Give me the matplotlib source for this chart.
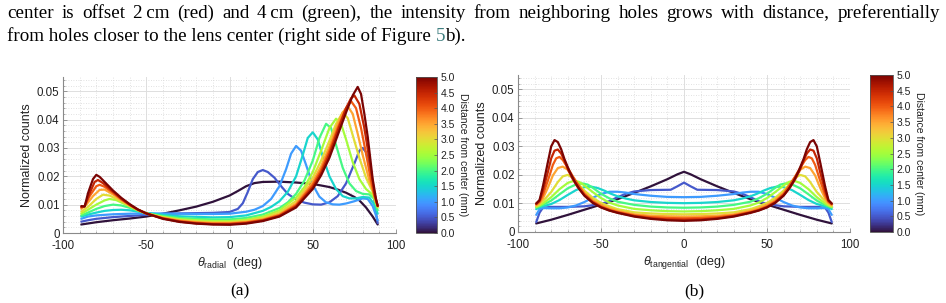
import matplotlib
matplotlib.use('Agg')
import matplotlib.pyplot as plt
from matplotlib.colors import Normalize
from matplotlib.cm import ScalarMappable
from matplotlib.ticker import MultipleLocator

plt.rcParams['axes.unicode_minus'] = False
plt.rcParams['font.family'] = ['Liberation Sans', 'DejaVu Sans']
plt.rcParams['mathtext.fontset'] = 'custom'
plt.rcParams['mathtext.rm'] = 'Liberation Sans'
plt.rcParams['mathtext.it'] = 'Liberation Sans:italic'

# ---------------- data ----------------
distances = [0.0, 0.5, 1.0, 1.5, 2.0, 2.5, 3.0, 3.5, 4.0, 4.5, 5.0]

x_ticks = [-100, -50, 0, 50, 100]
x_tick_labels = ['-100', '-50', '0', '50', '100']
y_ticks = [0, 0.01, 0.02, 0.03, 0.04, 0.05]
y_tick_labels = ['0', '0.01', '0.02', '0.03', '0.04', '0.05']
cbar_ticks = [0.0, 0.5, 1.0, 1.5, 2.0, 2.5, 3.0, 3.5, 4.0, 4.5, 5.0]
cbar_tick_labels = ['0.0', '0.5', '1.0', '1.5', '2.0', '2.5', '3.0', '3.5', '4.0', '4.5', '5.0']

# (a) radial
rad_x_00 = [-89, -80, -70, -60, -50, -40, -30, -20, -10, 0, 5, 10, 15, 20, 30, 40, 50, 60, 65, 70, 75, 78, 82, 86, 89]
rad_y_00 = [0.0030, 0.0038, 0.0045, 0.0051, 0.0058, 0.0068, 0.0080, 0.0093, 0.0110, 0.0132, 0.0148, 0.0165, 0.0176, 0.0180, 0.0181, 0.0178, 0.0173, 0.0162, 0.0153, 0.0142, 0.0127, 0.0115, 0.0090, 0.0058, 0.0030]
rad_x_05 = [-89, -85, -80, -70, -60, -50, -40, -30, -20, -10, 0, 5, 8, 11, 14, 17, 20, 23, 27, 31, 35, 40, 45, 50, 55, 60, 65, 70, 75, 78, 80, 82, 84, 86, 88, 89]
rad_y_05 = [0.0040, 0.0045, 0.0050, 0.0056, 0.0060, 0.0064, 0.0067, 0.0069, 0.0070, 0.0071, 0.0074, 0.0085, 0.0105, 0.0145, 0.0190, 0.0215, 0.0222, 0.0215, 0.0195, 0.0165, 0.0138, 0.0118, 0.0107, 0.0101, 0.0100, 0.0108, 0.0130, 0.0175, 0.0245, 0.0290, 0.0300, 0.0285, 0.0240, 0.0160, 0.0070, 0.0035]
rad_x_10 = [-89, -85, -80, -70, -60, -50, -40, -30, -20, -10, 0, 10, 15, 20, 25, 30, 34, 37, 40, 43, 46, 50, 54, 58, 62, 66, 70, 75, 80, 83, 86, 89]
rad_y_10 = [0.0050, 0.0058, 0.0062, 0.0066, 0.0068, 0.0069, 0.0069, 0.0068, 0.0067, 0.0067, 0.0068, 0.0075, 0.0082, 0.0095, 0.0120, 0.0165, 0.0225, 0.0280, 0.0307, 0.0290, 0.0240, 0.0170, 0.0128, 0.0108, 0.0101, 0.0100, 0.0104, 0.0112, 0.0122, 0.0120, 0.0095, 0.0045]
rad_x_15 = [-89, -85, -80, -75, -70, -65, -60, -50, -40, -30, -20, -10, 0, 10, 20, 25, 30, 35, 40, 44, 47, 50, 53, 56, 60, 64, 68, 72, 76, 80, 84, 87, 89]
rad_y_15 = [0.0058, 0.0065, 0.0072, 0.0078, 0.0081, 0.0082, 0.0080, 0.0071, 0.0064, 0.0059, 0.0057, 0.0055, 0.0056, 0.0062, 0.0078, 0.0092, 0.0112, 0.0145, 0.0200, 0.0275, 0.0335, 0.0355, 0.0330, 0.0270, 0.0200, 0.0155, 0.0130, 0.0122, 0.0122, 0.0127, 0.0125, 0.0100, 0.0068]
rad_x_20 = [-89, -85, -80, -75, -70, -65, -60, -50, -40, -30, -20, -10, 0, 10, 20, 30, 35, 40, 45, 50, 54, 58, 61, 64, 68, 72, 76, 80, 84, 87, 89]
rad_y_20 = [0.0062, 0.0072, 0.0085, 0.0095, 0.0100, 0.0097, 0.0089, 0.0069, 0.0060, 0.0053, 0.0050, 0.0048, 0.0048, 0.0053, 0.0065, 0.0088, 0.0108, 0.0138, 0.0185, 0.0255, 0.0335, 0.0385, 0.0370, 0.0310, 0.0230, 0.0175, 0.0148, 0.0138, 0.0136, 0.0120, 0.0080]
rad_x_25 = [-89, -85, -80, -75, -72, -68, -60, -55, -50, -40, -30, -20, -10, 0, 10, 20, 30, 40, 45, 50, 55, 60, 64, 67, 70, 74, 78, 82, 86, 89]
rad_y_25 = [0.0068, 0.0082, 0.0100, 0.0115, 0.0120, 0.0116, 0.0094, 0.0080, 0.0069, 0.0057, 0.0049, 0.0045, 0.0042, 0.0042, 0.0047, 0.0058, 0.0080, 0.0125, 0.0162, 0.0215, 0.0290, 0.0370, 0.0403, 0.0385, 0.0330, 0.0250, 0.0190, 0.0155, 0.0135, 0.0090]
rad_x_30 = [-89, -85, -80, -76, -72, -66, -60, -55, -50, -40, -30, -20, -10, 0, 10, 20, 30, 40, 50, 55, 60, 64, 68, 71, 74, 78, 82, 86, 89]
rad_y_30 = [0.0075, 0.0092, 0.0120, 0.0135, 0.0132, 0.0115, 0.0096, 0.0081, 0.0069, 0.0055, 0.0046, 0.0041, 0.0038, 0.0038, 0.0043, 0.0053, 0.0073, 0.0113, 0.0195, 0.0255, 0.0325, 0.0385, 0.0425, 0.0405, 0.0345, 0.0265, 0.0195, 0.0145, 0.0093]
rad_x_35 = [-89, -86, -82, -78, -75, -70, -65, -60, -55, -50, -40, -30, -20, -10, 0, 10, 20, 30, 40, 50, 55, 60, 65, 68, 71, 74, 77, 80, 84, 87, 89]
rad_y_35 = [0.0085, 0.0100, 0.0130, 0.0152, 0.0153, 0.0136, 0.0116, 0.0098, 0.0082, 0.0069, 0.0053, 0.0044, 0.0038, 0.0035, 0.0035, 0.0039, 0.0048, 0.0066, 0.0104, 0.0180, 0.0235, 0.0305, 0.0385, 0.0425, 0.0447, 0.0420, 0.0350, 0.0275, 0.0185, 0.0135, 0.0095]
rad_x_40 = [-89, -87, -84, -80, -78, -75, -70, -65, -60, -55, -50, -40, -30, -20, -10, 0, 10, 20, 30, 40, 50, 55, 60, 65, 70, 73, 76, 79, 82, 85, 87, 89]
rad_y_40 = [0.0090, 0.0095, 0.0130, 0.0165, 0.0170, 0.0163, 0.0142, 0.0119, 0.0099, 0.0082, 0.0069, 0.0052, 0.0042, 0.0036, 0.0033, 0.0033, 0.0037, 0.0046, 0.0063, 0.0098, 0.0170, 0.0222, 0.0290, 0.0370, 0.0440, 0.0465, 0.0440, 0.0370, 0.0280, 0.0185, 0.0130, 0.0095]
rad_x_45 = [-89, -87, -84, -81, -79, -76, -70, -65, -60, -55, -50, -40, -30, -20, -10, 0, 10, 20, 30, 40, 50, 55, 60, 65, 70, 73, 75, 78, 81, 84, 87, 89]
rad_y_45 = [0.0092, 0.0095, 0.0140, 0.0180, 0.0187, 0.0176, 0.0146, 0.0121, 0.0100, 0.0082, 0.0069, 0.0051, 0.0040, 0.0034, 0.0031, 0.0031, 0.0035, 0.0044, 0.0060, 0.0094, 0.0162, 0.0212, 0.0278, 0.0360, 0.0440, 0.0475, 0.0485, 0.0455, 0.0370, 0.0260, 0.0140, 0.0095]
rad_x_50 = [-89, -87, -85, -82, -80, -78, -75, -70, -65, -60, -55, -50, -40, -30, -20, -10, 0, 10, 20, 30, 40, 50, 55, 60, 65, 70, 74, 77, 79, 81, 83, 86, 88, 89]
rad_y_50 = [0.0095, 0.0093, 0.0140, 0.0190, 0.0205, 0.0198, 0.0180, 0.0150, 0.0124, 0.0102, 0.0083, 0.0069, 0.0050, 0.0039, 0.0033, 0.0030, 0.0029, 0.0033, 0.0042, 0.0058, 0.0090, 0.0155, 0.0203, 0.0265, 0.0345, 0.0425, 0.0485, 0.0515, 0.0490, 0.0420, 0.0340, 0.0190, 0.0120, 0.0096]

# (b) tangential
tan_x_00 = [-89, -80, -70, -60, -50, -40, -30, -20, -10, -4, 0, 4, 10, 20, 30, 40, 50, 60, 70, 80, 89]
tan_y_00 = [0.0030, 0.0043, 0.0060, 0.0078, 0.0096, 0.0115, 0.0137, 0.0160, 0.0185, 0.0202, 0.0211, 0.0202, 0.0185, 0.0160, 0.0137, 0.0115, 0.0096, 0.0078, 0.0060, 0.0043, 0.0030]
tan_x_05 = [-89, -87, -85, -80, -70, -60, -50, -45, -40, -35, -30, -20, -8, -4, 0, 4, 8, 20, 30, 35, 40, 45, 50, 60, 70, 80, 85, 87, 89]
tan_y_05 = [0.0035, 0.0068, 0.0085, 0.0088, 0.0088, 0.0090, 0.0098, 0.0108, 0.0122, 0.0134, 0.0142, 0.0147, 0.0148, 0.0160, 0.0173, 0.0160, 0.0148, 0.0147, 0.0142, 0.0134, 0.0122, 0.0108, 0.0098, 0.0090, 0.0088, 0.0088, 0.0085, 0.0068, 0.0035]
tan_x_10 = [-89, -87, -85, -80, -75, -70, -65, -60, -55, -50, -45, -40, -35, -30, -20, -10, 0, 10, 20, 30, 35, 40, 45, 50, 55, 60, 65, 70, 75, 80, 85, 87, 89]
tan_y_10 = [0.0060, 0.0080, 0.0084, 0.0083, 0.0083, 0.0086, 0.0093, 0.0105, 0.0120, 0.0133, 0.0141, 0.0141, 0.0138, 0.0133, 0.0127, 0.0123, 0.0122, 0.0123, 0.0127, 0.0133, 0.0138, 0.0141, 0.0141, 0.0133, 0.0120, 0.0105, 0.0093, 0.0086, 0.0083, 0.0083, 0.0084, 0.0080, 0.0060]
tan_x_15 = [-89, -87, -85, -80, -75, -70, -65, -60, -56, -52, -48, -44, -40, -35, -30, -20, -10, 0, 10, 20, 30, 35, 40, 44, 48, 52, 56, 60, 65, 70, 75, 80, 85, 87, 89]
tan_y_15 = [0.0080, 0.0087, 0.0090, 0.0098, 0.0112, 0.0130, 0.0147, 0.0157, 0.0159, 0.0154, 0.0145, 0.0134, 0.0125, 0.0117, 0.0111, 0.0105, 0.0102, 0.0101, 0.0102, 0.0105, 0.0111, 0.0117, 0.0125, 0.0134, 0.0145, 0.0154, 0.0159, 0.0157, 0.0147, 0.0130, 0.0112, 0.0098, 0.0090, 0.0087, 0.0080]
tan_x_20 = [-89, -87, -85, -80, -75, -70, -65, -61, -58, -55, -50, -45, -40, -30, -20, -10, 0, 10, 20, 30, 40, 45, 50, 55, 58, 61, 65, 70, 75, 80, 85, 87, 89]
tan_y_20 = [0.0085, 0.0090, 0.0095, 0.0110, 0.0132, 0.0153, 0.0167, 0.0170, 0.0166, 0.0155, 0.0134, 0.0118, 0.0106, 0.0095, 0.0089, 0.0086, 0.0085, 0.0086, 0.0089, 0.0095, 0.0106, 0.0118, 0.0134, 0.0155, 0.0166, 0.0170, 0.0167, 0.0153, 0.0132, 0.0110, 0.0095, 0.0090, 0.0085]
tan_x_25 = [-89, -87, -85, -80, -75, -70, -66, -63, -60, -55, -50, -45, -40, -30, -20, -10, 0, 10, 20, 30, 40, 45, 50, 55, 60, 63, 66, 70, 75, 80, 85, 87, 89]
tan_y_25 = [0.0088, 0.0093, 0.0100, 0.0122, 0.0150, 0.0172, 0.0180, 0.0175, 0.0163, 0.0140, 0.0119, 0.0103, 0.0093, 0.0081, 0.0076, 0.0073, 0.0072, 0.0073, 0.0076, 0.0081, 0.0093, 0.0103, 0.0119, 0.0140, 0.0163, 0.0175, 0.0180, 0.0172, 0.0150, 0.0122, 0.0100, 0.0093, 0.0088]
tan_x_30 = [-89, -87, -85, -80, -76, -73, -70, -67, -64, -60, -55, -50, -45, -40, -30, -20, -10, 0, 10, 20, 30, 40, 45, 50, 55, 60, 64, 67, 70, 73, 76, 80, 85, 87, 89]
tan_y_30 = [0.0090, 0.0097, 0.0108, 0.0140, 0.0175, 0.0195, 0.0200, 0.0190, 0.0170, 0.0145, 0.0120, 0.0102, 0.0090, 0.0080, 0.0069, 0.0065, 0.0063, 0.0062, 0.0063, 0.0065, 0.0069, 0.0080, 0.0090, 0.0102, 0.0120, 0.0145, 0.0170, 0.0190, 0.0200, 0.0195, 0.0175, 0.0140, 0.0108, 0.0097, 0.0090]
tan_x_35 = [-89, -87, -85, -82, -79, -76, -73, -70, -67, -64, -60, -55, -50, -45, -40, -30, -20, -10, 0, 10, 20, 30, 40, 45, 50, 55, 60, 64, 67, 70, 73, 76, 79, 82, 85, 87, 89]
tan_y_35 = [0.0094, 0.0102, 0.0118, 0.0155, 0.0198, 0.0224, 0.0229, 0.0218, 0.0192, 0.0167, 0.0137, 0.0112, 0.0095, 0.0083, 0.0074, 0.0062, 0.0057, 0.0055, 0.0054, 0.0055, 0.0057, 0.0062, 0.0074, 0.0083, 0.0095, 0.0112, 0.0137, 0.0167, 0.0192, 0.0218, 0.0229, 0.0224, 0.0198, 0.0155, 0.0118, 0.0102, 0.0094]
tan_x_40 = [-89, -87, -85, -82, -79, -77, -75, -73, -70, -67, -64, -60, -55, -50, -45, -40, -30, -20, -10, 0, 10, 20, 30, 40, 45, 50, 55, 60, 64, 67, 70, 73, 75, 77, 79, 82, 85, 87, 89]
tan_y_40 = [0.0097, 0.0106, 0.0130, 0.0180, 0.0235, 0.0258, 0.0263, 0.0252, 0.0225, 0.0195, 0.0168, 0.0133, 0.0107, 0.0090, 0.0078, 0.0070, 0.0058, 0.0052, 0.0049, 0.0048, 0.0049, 0.0052, 0.0058, 0.0070, 0.0078, 0.0090, 0.0107, 0.0133, 0.0168, 0.0195, 0.0225, 0.0252, 0.0263, 0.0258, 0.0235, 0.0180, 0.0130, 0.0106, 0.0097]
tan_x_45 = [-89, -87, -85, -82, -80, -78, -76, -74, -72, -70, -67, -64, -60, -55, -50, -45, -40, -30, -20, -10, 0, 10, 20, 30, 40, 45, 50, 55, 60, 64, 67, 70, 72, 74, 76, 78, 80, 82, 85, 87, 89]
tan_y_45 = [0.0099, 0.0110, 0.0145, 0.0210, 0.0258, 0.0285, 0.0289, 0.0275, 0.0250, 0.0220, 0.0185, 0.0157, 0.0129, 0.0104, 0.0087, 0.0076, 0.0068, 0.0056, 0.0048, 0.0044, 0.0043, 0.0044, 0.0048, 0.0056, 0.0068, 0.0076, 0.0087, 0.0104, 0.0129, 0.0157, 0.0185, 0.0220, 0.0250, 0.0275, 0.0289, 0.0285, 0.0258, 0.0210, 0.0145, 0.0110, 0.0099]
tan_x_50 = [-89, -87, -85, -82, -80, -78, -76, -74, -72, -69, -66, -63, -60, -55, -50, -45, -40, -30, -20, -10, 0, 10, 20, 30, 40, 45, 50, 55, 60, 63, 66, 69, 72, 74, 76, 78, 80, 82, 85, 87, 89]
tan_y_50 = [0.0100, 0.0112, 0.0160, 0.0245, 0.0300, 0.0322, 0.0315, 0.0290, 0.0255, 0.0213, 0.0178, 0.0150, 0.0127, 0.0102, 0.0086, 0.0075, 0.0067, 0.0054, 0.0046, 0.0041, 0.0039, 0.0041, 0.0046, 0.0054, 0.0067, 0.0075, 0.0086, 0.0102, 0.0127, 0.0150, 0.0178, 0.0213, 0.0255, 0.0290, 0.0315, 0.0322, 0.0300, 0.0245, 0.0160, 0.0112, 0.0100]

radial_x = [rad_x_00, rad_x_05, rad_x_10, rad_x_15, rad_x_20, rad_x_25, rad_x_30, rad_x_35, rad_x_40, rad_x_45, rad_x_50]
radial_y = [rad_y_00, rad_y_05, rad_y_10, rad_y_15, rad_y_20, rad_y_25, rad_y_30, rad_y_35, rad_y_40, rad_y_45, rad_y_50]
tang_x = [tan_x_00, tan_x_05, tan_x_10, tan_x_15, tan_x_20, tan_x_25, tan_x_30, tan_x_35, tan_x_40, tan_x_45, tan_x_50]
tang_y = [tan_y_00, tan_y_05, tan_y_10, tan_y_15, tan_y_20, tan_y_25, tan_y_30, tan_y_35, tan_y_40, tan_y_45, tan_y_50]

para_line1 = ['center', 'is', 'offset', '2\u2009cm', '(red)', 'and', '4\u2009cm', '(green),', 'the', 'intensity',
              'from', 'neighboring', 'holes', 'grows', 'with', 'distance,', 'preferentially']
para_line2_a = 'from holes closer to the lens center (right side of Figure '
para_line2_link = '5'
para_line2_b = 'b).'

# ---------------- figure ----------------
W, H = 946, 303
fig = plt.figure(figsize=(W / 100, H / 100), dpi=100)
fig.patch.set_facecolor('white')
renderer = fig.canvas.get_renderer()

cmap = plt.get_cmap('turbo')
norm = Normalize(0, 5)


def rect(l, t, r, b):
    return [l / W, 1 - b / H, (r - l) / W, (b - t) / H]


def draw_panel(axr, cbr, xs, ys, xlabel, xlab_y, ylab_x, cb_pad):
    ax = fig.add_axes(rect(*axr))
    for d, x, y in zip(distances, xs, ys):
        ax.plot(x, y, color=cmap(norm(d)), lw=1.6, solid_capstyle='round',
                solid_joinstyle='round', zorder=3)
    ax.set_xlim(-100, 100)
    ax.set_ylim(0, 0.055)
    ax.set_xticks(x_ticks)
    ax.set_xticklabels(x_tick_labels)
    ax.set_yticks(y_ticks)
    ax.set_yticklabels(y_tick_labels)
    ax.xaxis.set_minor_locator(MultipleLocator(10))
    ax.yaxis.set_minor_locator(MultipleLocator(0.002))
    ax.grid(which='major', color='#dedede', lw=0.7)
    ax.grid(which='minor', color='#d8d8d8', lw=0.6, ls=(0, (1, 2)))
    ax.set_axisbelow(True)
    for s in ['top', 'right']:
        ax.spines[s].set_visible(False)
    for s in ['left', 'bottom']:
        ax.spines[s].set_color('#8a8a8a')
        ax.spines[s].set_linewidth(0.8)
    ax.tick_params(which='major', direction='in', length=3, width=0.6, color='#8a8a8a',
                   labelsize=8.3, labelcolor='#222222', pad=2.5)
    ax.tick_params(axis='x', which='major', pad=4.8)
    ax.tick_params(which='minor', direction='in', length=1.5, width=0.5, color='#8a8a8a')
    ax.set_xlabel(xlabel, fontsize=9, color='#222222')
    ax.set_ylabel('Normalized counts', fontsize=9, color='#222222')
    ax.xaxis.set_label_coords(0.5, xlab_y)
    ax.yaxis.set_label_coords(ylab_x, 0.5)

    cax = fig.add_axes(rect(*cbr))
    cb = fig.colorbar(ScalarMappable(norm=norm, cmap=cmap), cax=cax)
    cb.set_ticks(cbar_ticks)
    cb.set_ticklabels(cbar_tick_labels)
    cb.outline.set_edgecolor('#555555')
    cb.outline.set_linewidth(0.6)
    cax.tick_params(labelsize=7.5, length=2, width=0.5, direction='in', pad=3,
                    color='#555555', labelcolor='#222222')
    cb.set_label('Distance from center (mm)', rotation=270, va='bottom', fontsize=7.5,
                 color='#222222', labelpad=cb_pad)
    return ax


draw_panel((63, 77, 396, 233), (416, 77, 436.5, 233), radial_x, radial_y,
           r'$\theta_{\mathregular{radial}}$  (deg)', -0.14, -0.09, 2)
draw_panel((518, 75, 850, 232), (870, 75, 892.5, 232), tang_x, tang_y,
           r'$\theta_{\mathregular{tangential}}$  (deg)', -0.14, -0.09, 2)

# captions
serif = ['Liberation Serif', 'DejaVu Serif']
fig.text(240 / W, 1 - 291 / H, '(a)', family=serif, fontsize=12.5, ha='center', va='center')
fig.text(694 / W, 1 - 291 / H, '(b)', family=serif, fontsize=12.5, ha='center', va='center')

# paragraph text (justified first line)
fs = 13.7
x_left, x_right = 7, 940
words = []
widths = []
for w in para_line1:
    t = fig.text(0, 1 - 17.5 / H, w, family=serif, fontsize=fs, va='baseline', ha='left')
    bb = t.get_window_extent(renderer)
    words.append(t)
    widths.append(bb.width)
gap = (x_right - x_left - sum(widths)) / (len(words) - 1)
xp = x_left
for t, wd in zip(words, widths):
    t.set_x(xp / W)
    xp += wd + gap

t1 = fig.text(x_left / W, 1 - 40.7 / H, para_line2_a, family=serif, fontsize=fs, va='baseline')
bb1 = t1.get_window_extent(renderer)
t2 = fig.text(bb1.x1 / W, 1 - 40.7 / H, para_line2_link, family=serif, fontsize=fs,
              va='baseline', color='#3f7f80')
bb2 = t2.get_window_extent(renderer)
fig.text(bb2.x1 / W, 1 - 40.7 / H, para_line2_b, family=serif, fontsize=fs, va='baseline')

fig.savefig('out.png', dpi=100, facecolor='white')
